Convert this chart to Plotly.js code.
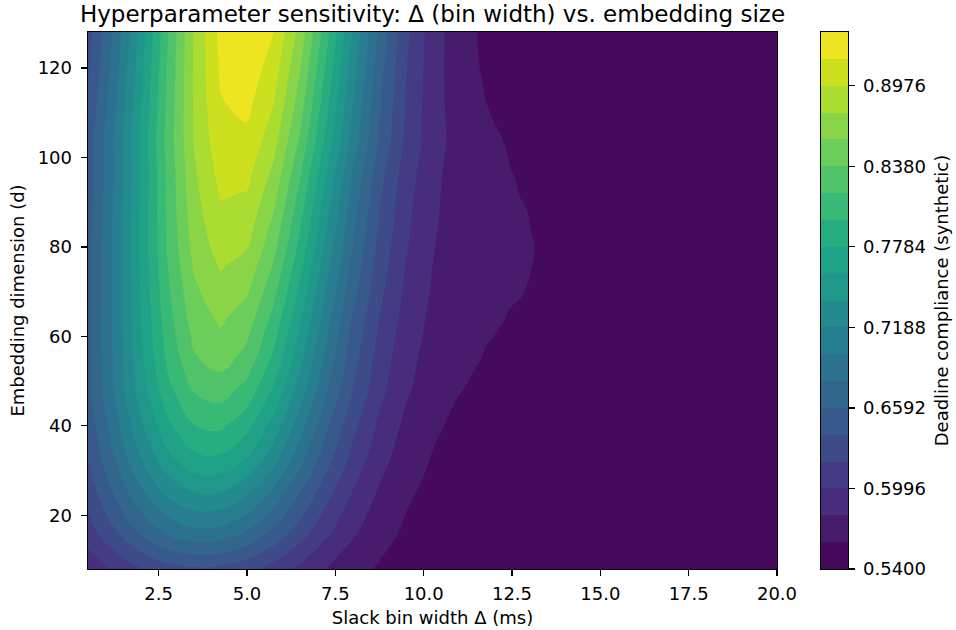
<!DOCTYPE html>
<html>
<head>
<meta charset="utf-8">
<script src="https://cdn.plot.ly/plotly-3.0.1.min.js"></script>
<style>html,body{margin:0;padding:0;background:#ffffff;}</style>
</head>
<body>
<div id="chart" style="width:956px;height:630px;"></div>
<script>
// Slack bin width Δ (ms) sample positions
const binWidth = [0.5, 1.25, 2, 2.75, 3.5, 4.25, 5, 5.75, 6.5, 7.25, 8, 8.75, 9.5, 10.25, 11, 11.75, 12.5, 13.25, 14, 16, 20];
// Embedding dimension d sample positions
const embedDim = [8, 16, 24, 32, 40, 48, 52, 56, 60, 64, 68, 72, 76, 80, 84, 88, 92, 96, 100, 104, 108, 112, 116, 120, 128];
// Deadline compliance, one row per embedding dimension
const compliance = [
  [0.5873, 0.6034, 0.6191, 0.6311, 0.6368, 0.6347, 0.6255, 0.6112, 0.5949, 0.5795, 0.5669, 0.5577, 0.5518, 0.5483, 0.5465, 0.5456, 0.5452, 0.5451, 0.5450, 0.5450, 0.5450],
  [0.6100, 0.6358, 0.6613, 0.6816, 0.6922, 0.6904, 0.6767, 0.6545, 0.6284, 0.6033, 0.5824, 0.5670, 0.5568, 0.5508, 0.5477, 0.5461, 0.5454, 0.5451, 0.5450, 0.5450, 0.5450],
  [0.6258, 0.6584, 0.6913, 0.7182, 0.7332, 0.7327, 0.7167, 0.6892, 0.6561, 0.6237, 0.5963, 0.5758, 0.5622, 0.5541, 0.5497, 0.5476, 0.5466, 0.5462, 0.5461, 0.5460, 0.5460],
  [0.6390, 0.6775, 0.7172, 0.7507, 0.7707, 0.7723, 0.7553, 0.7237, 0.6845, 0.6453, 0.6116, 0.5861, 0.5690, 0.5586, 0.5529, 0.5501, 0.5488, 0.5483, 0.5481, 0.5480, 0.5480],
  [0.6476, 0.6902, 0.7348, 0.7735, 0.7978, 0.8020, 0.7850, 0.7510, 0.7076, 0.6634, 0.6248, 0.5953, 0.5751, 0.5628, 0.5560, 0.5526, 0.5510, 0.5504, 0.5501, 0.5500, 0.5500],
  [0.6546, 0.7002, 0.7487, 0.7917, 0.8200, 0.8270, 0.8109, 0.7757, 0.7294, 0.6812, 0.6385, 0.6054, 0.5826, 0.5684, 0.5605, 0.5565, 0.5547, 0.5539, 0.5536, 0.5535, 0.5535],
  [0.6548, 0.7016, 0.7522, 0.7979, 0.8289, 0.8378, 0.8223, 0.7863, 0.7383, 0.6879, 0.6433, 0.6087, 0.5849, 0.5702, 0.5621, 0.5580, 0.5562, 0.5554, 0.5551, 0.5550, 0.5550],
  [0.6546, 0.7025, 0.7551, 0.8034, 0.8371, 0.8479, 0.8331, 0.7964, 0.7467, 0.6943, 0.6478, 0.6117, 0.5870, 0.5719, 0.5636, 0.5595, 0.5577, 0.5569, 0.5566, 0.5565, 0.5565],
  [0.6550, 0.7034, 0.7570, 0.8068, 0.8421, 0.8545, 0.8407, 0.8044, 0.7541, 0.7006, 0.6527, 0.6153, 0.5895, 0.5737, 0.5649, 0.5605, 0.5585, 0.5577, 0.5574, 0.5573, 0.5573],
  [0.6552, 0.7041, 0.7586, 0.8099, 0.8470, 0.8610, 0.8484, 0.8123, 0.7616, 0.7069, 0.6576, 0.6188, 0.5920, 0.5753, 0.5661, 0.5615, 0.5593, 0.5585, 0.5582, 0.5580, 0.5580],
  [0.6552, 0.7045, 0.7600, 0.8128, 0.8518, 0.8676, 0.8563, 0.8207, 0.7695, 0.7138, 0.6629, 0.6227, 0.5946, 0.5771, 0.5674, 0.5624, 0.5601, 0.5592, 0.5589, 0.5587, 0.5587],
  [0.6546, 0.7043, 0.7608, 0.8150, 0.8559, 0.8737, 0.8638, 0.8289, 0.7774, 0.7205, 0.6681, 0.6264, 0.5970, 0.5786, 0.5683, 0.5630, 0.5604, 0.5595, 0.5592, 0.5590, 0.5590],
  [0.6544, 0.7045, 0.7620, 0.8177, 0.8604, 0.8799, 0.8713, 0.8368, 0.7848, 0.7267, 0.6729, 0.6297, 0.5991, 0.5798, 0.5688, 0.5633, 0.5607, 0.5596, 0.5592, 0.5590, 0.5590],
  [0.6537, 0.7043, 0.7627, 0.8200, 0.8646, 0.8860, 0.8789, 0.8449, 0.7926, 0.7334, 0.6780, 0.6332, 0.6013, 0.5810, 0.5695, 0.5636, 0.5608, 0.5597, 0.5592, 0.5590, 0.5590],
  [0.6525, 0.7033, 0.7624, 0.8209, 0.8673, 0.8906, 0.8850, 0.8518, 0.7994, 0.7393, 0.6826, 0.6364, 0.6033, 0.5821, 0.5699, 0.5637, 0.5607, 0.5595, 0.5590, 0.5588, 0.5588],
  [0.6514, 0.7024, 0.7622, 0.8220, 0.8700, 0.8950, 0.8908, 0.8584, 0.8059, 0.7450, 0.6870, 0.6394, 0.6050, 0.5830, 0.5703, 0.5637, 0.5606, 0.5593, 0.5588, 0.5585, 0.5585],
  [0.6496, 0.7007, 0.7611, 0.8222, 0.8721, 0.8993, 0.8968, 0.8655, 0.8130, 0.7513, 0.6919, 0.6428, 0.6071, 0.5839, 0.5706, 0.5635, 0.5602, 0.5588, 0.5583, 0.5580, 0.5580],
  [0.6480, 0.6992, 0.7602, 0.8225, 0.8742, 0.9034, 0.9028, 0.8725, 0.8201, 0.7576, 0.6969, 0.6462, 0.6091, 0.5849, 0.5708, 0.5634, 0.5600, 0.5584, 0.5578, 0.5575, 0.5575],
  [0.6483, 0.6998, 0.7611, 0.8239, 0.8766, 0.9071, 0.9081, 0.8794, 0.8279, 0.7654, 0.7036, 0.6514, 0.6124, 0.5867, 0.5713, 0.5631, 0.5593, 0.5574, 0.5567, 0.5563, 0.5563],
  [0.6485, 0.7003, 0.7619, 0.8252, 0.8787, 0.9107, 0.9133, 0.8861, 0.8356, 0.7730, 0.7104, 0.6566, 0.6159, 0.5885, 0.5719, 0.5628, 0.5583, 0.5563, 0.5555, 0.5550, 0.5550],
  [0.6454, 0.6973, 0.7595, 0.8241, 0.8794, 0.9134, 0.9180, 0.8920, 0.8417, 0.7785, 0.7146, 0.6591, 0.6170, 0.5883, 0.5709, 0.5613, 0.5566, 0.5544, 0.5535, 0.5530, 0.5530],
  [0.6422, 0.6940, 0.7568, 0.8227, 0.8798, 0.9160, 0.9226, 0.8980, 0.8481, 0.7843, 0.7190, 0.6620, 0.6182, 0.5883, 0.5700, 0.5601, 0.5548, 0.5525, 0.5515, 0.5510, 0.5510],
  [0.6393, 0.6914, 0.7546, 0.8215, 0.8802, 0.9183, 0.9266, 0.9031, 0.8536, 0.7893, 0.7229, 0.6644, 0.6194, 0.5884, 0.5693, 0.5590, 0.5533, 0.5509, 0.5499, 0.5493, 0.5493],
  [0.6364, 0.6882, 0.7519, 0.8198, 0.8801, 0.9202, 0.9304, 0.9083, 0.8593, 0.7946, 0.7271, 0.6672, 0.6207, 0.5885, 0.5686, 0.5574, 0.5518, 0.5492, 0.5481, 0.5475, 0.5475],
  [0.6312, 0.6827, 0.7469, 0.8165, 0.8797, 0.9235, 0.9370, 0.9183, 0.8706, 0.8054, 0.7360, 0.6735, 0.6243, 0.5899, 0.5683, 0.5561, 0.5498, 0.5469, 0.5457, 0.5450, 0.5450]
];
// Contour levels (20 filled bands)
const levelMin = 0.5400;
const levelMax = 0.9373;
const bandCount = 20;
// Colorbar tick labels
const cbTickText = ['0.5400', '0.5996', '0.6592', '0.7188', '0.7784', '0.8380', '0.8976'];
const xTickVals = [2.5, 5, 7.5, 10, 12.5, 15, 17.5, 20];
const yTickVals = [20, 40, 60, 80, 100, 120];

const step = (levelMax - levelMin) / bandCount;

const viridis = [
  [0, '#440154'], [0.06274509803921569, '#48186a'], [0.12549019607843137, '#472d7b'],
  [0.18823529411764706, '#424086'], [0.25098039215686274, '#3b528b'], [0.3137254901960784, '#33638d'],
  [0.3764705882352941, '#2c728e'], [0.4392156862745098, '#26828e'], [0.5019607843137255, '#21918c'],
  [0.5647058823529412, '#1fa088'], [0.6274509803921569, '#28ae80'], [0.6901960784313725, '#3fbc73'],
  [0.7529411764705882, '#5ec962'], [0.8156862745098039, '#84d44b'], [0.8784313725490196, '#addc30'],
  [0.9411764705882353, '#d8e219'], [1, '#fde725']
];
// contour fill: remap so each band gets viridis at its midpoint (matplotlib contourf style)
const nLev = bandCount + 1;
const contourScale = [[0, '#440154']]
  .concat(viridis.map(s => [(bandCount * s[0] + 0.5) / nLev, s[1]]))
  .concat([[1, '#fde725']]);

// colorbar bands (one cell per contour band)
const bandMid = Array.from({ length: bandCount }, (_, k) => levelMin + (k + 0.5) * step);

const font = 'DejaVu Sans, sans-serif';
const W = 956 - 88; // plot region width (margin r = 0)

const contour = {
  type: 'contour',
  x: binWidth,
  y: embedDim,
  z: compliance,
  colorscale: contourScale,
  autocontour: false,
  contours: { start: levelMin, end: levelMax, size: step, coloring: 'fill', showlines: false },
  line: { width: 0, smoothing: 1.3 },
  showscale: false,
  hoverinfo: 'skip',
  xaxis: 'x', yaxis: 'y'
};

const colorbar = {
  type: 'heatmap',
  x: [0],
  y: bandMid,
  z: bandMid.map(v => [v]),
  zmin: levelMin, zmax: levelMax,
  colorscale: viridis,
  showscale: false,
  hoverinfo: 'skip',
  xaxis: 'x2', yaxis: 'y2'
};

const layout = {
  width: 956, height: 630,
  margin: { l: 88, r: 0, t: 32, b: 61, autoexpand: false },
  paper_bgcolor: '#ffffff', plot_bgcolor: '#ffffff',
  font: { family: font, size: 18, color: '#000000' },
  title: {
    text: 'Hyperparameter sensitivity: Δ (bin width) vs. embedding size',
    font: { family: font, size: 23, color: '#000000' },
    xref: 'paper', x: (432.5 - 88) / W, xanchor: 'center',
    yref: 'container', y: 1 - 14 / 630, yanchor: 'middle'
  },
  xaxis: {
    domain: [0, 689 / W],
    range: [0.5, 20], tickvals: xTickVals, tickformat: '.1f',
    ticks: 'outside', ticklen: 6, tickwidth: 1.4, tickcolor: '#000000',
    showline: true, linewidth: 1.4, linecolor: '#000000', mirror: true,
    showgrid: false, zeroline: false, automargin: false,
    tickfont: { family: font, size: 18 }, ticklabelstandoff: 2,
    title: { text: 'Slack bin width Δ (ms)', font: { family: font, size: 18 }, standoff: 8 }
  },
  yaxis: {
    range: [8, 128], tickvals: yTickVals,
    ticks: 'outside', ticklen: 6, tickwidth: 1.4, tickcolor: '#000000',
    showline: true, linewidth: 1.4, linecolor: '#000000', mirror: true,
    showgrid: false, zeroline: false, automargin: false,
    tickfont: { family: font, size: 18 }, ticklabelstandoff: 5,
    title: { text: 'Embedding dimension (d)', font: { family: font, size: 18 }, standoff: 8 }
  },
  xaxis2: {
    domain: [(821 - 88) / W, (848 - 88) / W], anchor: 'y2',
    range: [-0.5, 0.5], showticklabels: false, ticks: '',
    showline: true, linewidth: 1.4, linecolor: '#000000', mirror: true,
    showgrid: false, zeroline: false, automargin: false, fixedrange: true
  },
  yaxis2: {
    anchor: 'x2', side: 'right', range: [levelMin, levelMax],
    tickvals: cbTickText.map(Number), ticktext: cbTickText,
    ticks: 'outside', ticklen: 6, tickwidth: 1.4, tickcolor: '#000000',
    showline: true, linewidth: 1.4, linecolor: '#000000', mirror: true,
    showgrid: false, zeroline: false, automargin: false,
    tickfont: { family: font, size: 18 }, ticklabelstandoff: 4,
    title: { text: 'Deadline compliance (synthetic)', font: { family: font, size: 18 }, standoff: 10 }
  },
  showlegend: false
};

Plotly.newPlot('chart', [contour, colorbar], layout, { staticPlot: true, displayModeBar: false });
</script>
</body>
</html>
